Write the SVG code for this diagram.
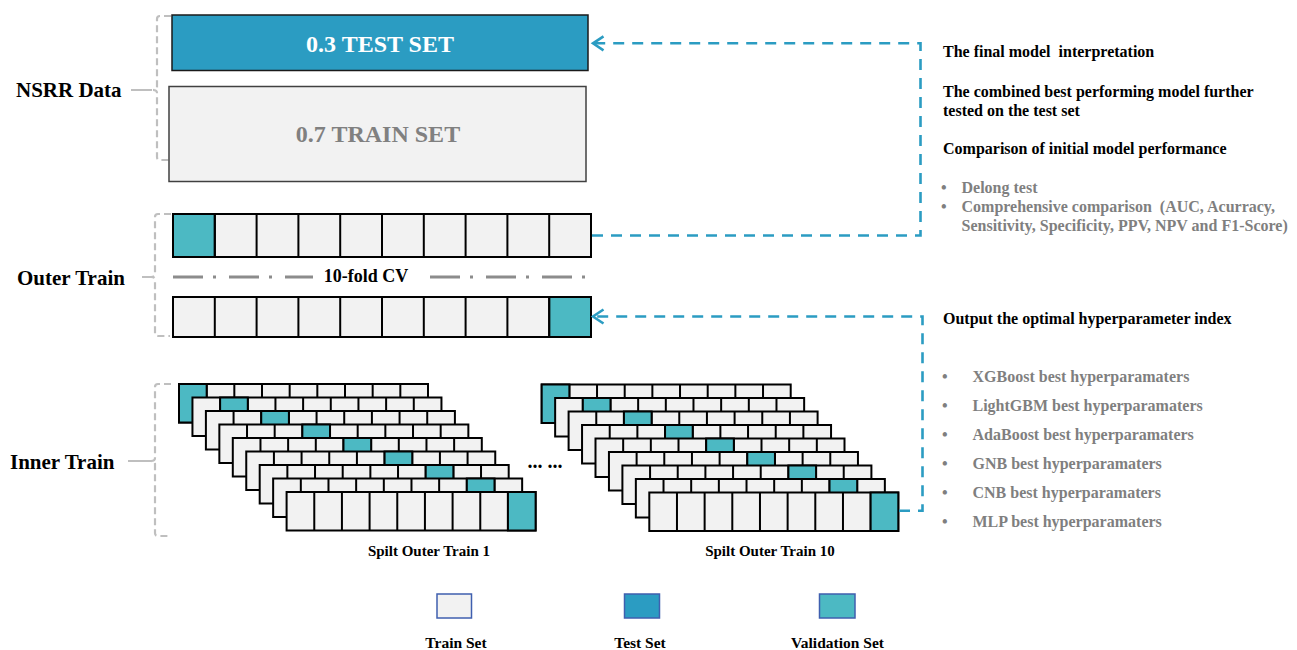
<svg xmlns="http://www.w3.org/2000/svg" xmlns:xlink="http://www.w3.org/1999/xlink" width="1297" height="650" viewBox="0 0 1297 650">
<style>
text{font-family:"Liberation Serif","Times New Roman",serif;font-weight:bold;}
.lbl{font-size:21px;fill:#000;}
.rt{font-size:16px;fill:#000;white-space:pre;}
.gt{font-size:16px;fill:#7f7f7f;white-space:pre;}
.cell{fill:#f2f2f2;stroke:#000;stroke-width:2;}
.val{fill:#4cb9c3;stroke:#000;stroke-width:2;}
.div{stroke:#000;stroke-width:2;fill:none;}
.brk{fill:none;stroke:#bfbfbf;stroke-width:2.2;stroke-dasharray:7 4;}
.conn{fill:none;stroke:#2b9cc2;stroke-width:2.6;stroke-dasharray:11 8;}
.chev{fill:none;stroke:#2b9cc2;stroke-width:2.6;}
</style>
<defs>
<g id="card">
<rect x="0" y="0" width="249" height="38.5" class="cell"/>
<path class="div" d="M27.67,0v38.5M55.33,0v38.5M83,0v38.5M110.67,0v38.5M138.33,0v38.5M166,0v38.5M193.67,0v38.5M221.33,0v38.5"/>
</g>
</defs>
<rect width="1297" height="650" fill="#fff"/>

<g id="nsrr-data">
<path class="brk" d="M171,16H160Q157,16 157,19V87Q157,90 153,90Q157,90 157,93V157Q157,160 160,160H170"/>
<path d="M131,90H152" stroke="#bfbfbf" stroke-width="2" fill="none"/>
<text class="lbl" x="16" y="96.5">NSRR Data</text>
</g>

<g id="test-set">
<rect x="172" y="15" width="416" height="55.5" fill="#2b9cc2" stroke="#1a1a1a" stroke-width="1.5"/>
<text x="380" y="51.5" text-anchor="middle" font-size="24" fill="#fff">0.3 TEST SET</text>
</g>

<g id="train-set">
<rect x="169" y="86.5" width="417" height="95" fill="#f2f2f2" stroke="#404040" stroke-width="1.5"/>
<text x="378" y="141.5" text-anchor="middle" font-size="24" fill="#808080">0.7 TRAIN SET</text>
</g>

<g id="outer-train">
<path class="brk" d="M171,214H158Q155,214 155,217V274Q155,277 151,277Q155,277 155,280V333Q155,336 158,336H170"/>
<path d="M142,277H151" stroke="#bfbfbf" stroke-width="2" fill="none"/>
<text class="lbl" x="17" y="285">Outer Train</text>
</g>

<g id="outer-fold-1">
<rect x="173" y="214" width="418" height="43" class="cell"/>
<rect x="173" y="214" width="41.8" height="43" class="val"/>
<path class="div" d="M214.8,214v43M256.6,214v43M298.4,214v43M340.2,214v43M382,214v43M423.8,214v43M465.6,214v43M507.4,214v43M549.2,214v43"/>
</g>

<g id="cv-label">
<path d="M173,277H313M430,277H591" stroke="#8c8c8c" stroke-width="3" stroke-dasharray="30 10 3 13" fill="none"/>
<text x="366" y="282" text-anchor="middle" font-size="18" fill="#000">10-fold CV</text>
</g>

<g id="outer-fold-10">
<rect x="173" y="297" width="418" height="40" class="cell"/>
<rect x="549.2" y="297" width="41.8" height="40" class="val"/>
<path class="div" d="M214.8,297v40M256.6,297v40M298.4,297v40M340.2,297v40M382,297v40M423.8,297v40M465.6,297v40M507.4,297v40M549.2,297v40"/>
</g>

<g id="inner-train">
<path class="brk" d="M171,384H158Q155,384 155,387V458Q155,461 151,461Q155,461 155,464V533Q155,536 158,536H170"/>
<path d="M128,461H151" stroke="#bfbfbf" stroke-width="2" fill="none"/>
<text class="lbl" x="10" y="468.5">Inner Train</text>
</g>

<g id="split-outer-train-1">
<use xlink:href="#card" x="179" y="384"/><rect class="val" x="179" y="384" width="27.67" height="38.5"/>
<use xlink:href="#card" x="192.45" y="397.5"/><rect class="val" x="220.12" y="397.5" width="27.67" height="38.5"/>
<use xlink:href="#card" x="205.9" y="411"/><rect class="val" x="261.23" y="411" width="27.67" height="38.5"/>
<use xlink:href="#card" x="219.35" y="424.5"/><rect class="val" x="302.35" y="424.5" width="27.67" height="38.5"/>
<use xlink:href="#card" x="232.8" y="438"/><rect class="val" x="343.47" y="438" width="27.67" height="38.5"/>
<use xlink:href="#card" x="246.25" y="451.5"/><rect class="val" x="384.58" y="451.5" width="27.67" height="38.5"/>
<use xlink:href="#card" x="259.7" y="465"/><rect class="val" x="425.7" y="465" width="27.67" height="38.5"/>
<use xlink:href="#card" x="273.15" y="478.5"/><rect class="val" x="466.82" y="478.5" width="27.67" height="38.5"/>
<use xlink:href="#card" x="286.6" y="492"/><rect class="val" x="507.93" y="492" width="27.67" height="38.5"/>
<text x="429" y="556" text-anchor="middle" font-size="15" fill="#000">Spilt Outer Train 1</text>
</g>

<text id="ellipsis" x="545" y="468" text-anchor="middle" font-size="20" fill="#000">... ...</text>

<g id="split-outer-train-10">
<use xlink:href="#card" x="541.7" y="384.5"/><rect class="val" x="541.7" y="384.5" width="27.67" height="38.5"/>
<use xlink:href="#card" x="555.15" y="398"/><rect class="val" x="582.82" y="398" width="27.67" height="38.5"/>
<use xlink:href="#card" x="568.6" y="411.5"/><rect class="val" x="623.93" y="411.5" width="27.67" height="38.5"/>
<use xlink:href="#card" x="582.05" y="425"/><rect class="val" x="665.05" y="425" width="27.67" height="38.5"/>
<use xlink:href="#card" x="595.5" y="438.5"/><rect class="val" x="706.17" y="438.5" width="27.67" height="38.5"/>
<use xlink:href="#card" x="608.95" y="452"/><rect class="val" x="747.28" y="452" width="27.67" height="38.5"/>
<use xlink:href="#card" x="622.4" y="465.5"/><rect class="val" x="788.4" y="465.5" width="27.67" height="38.5"/>
<use xlink:href="#card" x="635.85" y="479"/><rect class="val" x="829.52" y="479" width="27.67" height="38.5"/>
<use xlink:href="#card" x="649.3" y="492.5"/><rect class="val" x="870.63" y="492.5" width="27.67" height="38.5"/>
<text x="770" y="556" text-anchor="middle" font-size="15" fill="#000">Spilt Outer Train 10</text>
</g>

<g id="connectors">
<path class="conn" d="M592,235.5H920.5V43.3H594"/>
<path class="chev" d="M603.5,36.3L593,43.3L603.5,50.3"/>
<path class="conn" d="M899,510.7H922.5V316.5H594"/>
<path class="chev" d="M603.5,309.5L593,316.5L603.5,323.5"/>
</g>

<g id="evaluation-notes">
<text class="rt" x="943" y="57">The final model  interpretation</text>
<text class="rt" x="943" y="96.5">The combined best performing model further</text>
<text class="rt" x="943" y="115.5">tested on the test set</text>
<text class="rt" x="943" y="153.5">Comparison of initial model performance</text>
<text class="gt" x="941" y="192.5">•</text>
<text class="gt" x="961.5" y="192.5">Delong test</text>
<text class="gt" x="941" y="211.5">•</text>
<text class="gt" x="961.5" y="211.5">Comprehensive comparison  (AUC, Acurracy,</text>
<text class="gt" x="961.5" y="231">Sensitivity, Specificity, PPV, NPV and F1-Score)</text>
</g>

<g id="hyperparameter-notes">
<text class="rt" x="943" y="323.5">Output the optimal hyperparameter index</text>
<text class="gt" x="942" y="381.5">•</text><text class="gt" x="972.5" y="381.5">XGBoost best hyperparamaters</text>
<text class="gt" x="942" y="410.5">•</text><text class="gt" x="972.5" y="410.5">LightGBM best hyperparamaters</text>
<text class="gt" x="942" y="439.5">•</text><text class="gt" x="972.5" y="439.5">AdaBoost best hyperparamaters</text>
<text class="gt" x="942" y="468.5">•</text><text class="gt" x="972.5" y="468.5">GNB best hyperparamaters</text>
<text class="gt" x="942" y="497.5">•</text><text class="gt" x="972.5" y="497.5">CNB best hyperparamaters</text>
<text class="gt" x="942" y="526.5">•</text><text class="gt" x="972.5" y="526.5">MLP best hyperparamaters</text>
</g>

<g id="legend-train">
<rect x="437" y="594" width="34.5" height="24" fill="#f2f2f2" stroke="#3f5faf" stroke-width="1.5"/>
<text x="456" y="648" text-anchor="middle" font-size="15.5" fill="#000">Train Set</text>
</g>
<g id="legend-test">
<rect x="624.5" y="594" width="35" height="24" fill="#2b9cc2" stroke="#3f5faf" stroke-width="1.5"/>
<text x="640" y="648" text-anchor="middle" font-size="15.5" fill="#000">Test Set</text>
</g>
<g id="legend-validation">
<rect x="819.5" y="594" width="35.5" height="24" fill="#4cb9c3" stroke="#3f5faf" stroke-width="1.5"/>
<text x="837.5" y="648" text-anchor="middle" font-size="15.5" fill="#000">Validation Set</text>
</g>
</svg>
